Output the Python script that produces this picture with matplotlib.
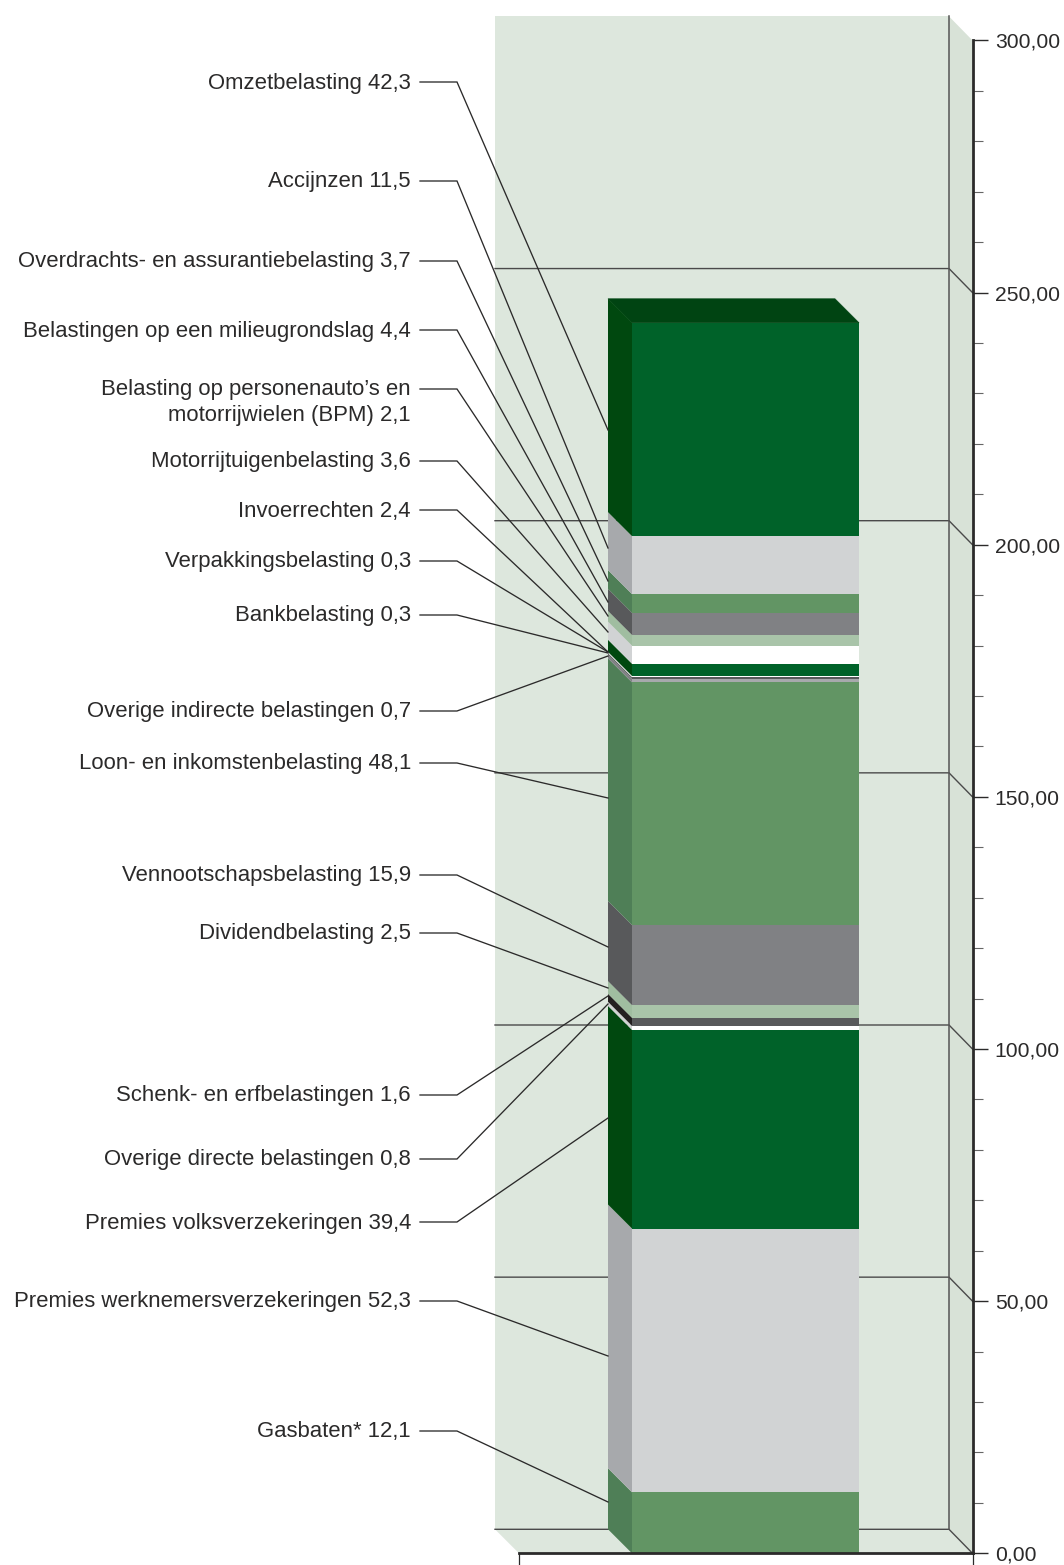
import numpy as np
import matplotlib
matplotlib.use("Agg")
import matplotlib.pyplot as plt
from matplotlib.patches import Polygon
from matplotlib.ticker import FuncFormatter, MultipleLocator
from matplotlib.transforms import Affine2D

categories = ["Gasbaten*", "Premies werknemersverzekeringen", "Premies volksverzekeringen",
              "Overige directe belastingen", "Schenk- en erfbelastingen", "Dividendbelasting",
              "Vennootschapsbelasting", "Loon- en inkomstenbelasting", "Overige indirecte belastingen",
              "Bankbelasting", "Verpakkingsbelasting", "Invoerrechten", "Motorrijtuigenbelasting",
              "Belasting op personenauto\u2019s en\nmotorrijwielen (BPM)", "Belastingen op een milieugrondslag",
              "Overdrachts- en assurantiebelasting", "Accijnzen", "Omzetbelasting"]
values = [12.1, 52.3, 39.4, 0.8, 1.6, 2.5, 15.9, 48.1, 0.7, 0.3, 0.3, 2.4, 3.6, 2.1, 4.4, 3.7, 11.5, 42.3]

GREEN, LGRAY, DGREEN, WHITE = "#629564", "#d1d3d4", "#006229", "#ffffff"
DGRAY, PALE, GRAY = "#58595b", "#a9c4a9", "#808184"
front_colors = [GREEN, LGRAY, DGREEN, WHITE, DGRAY, PALE, GRAY, GREEN, "#a7a9ac",
                DGRAY, WHITE, DGREEN, WHITE, PALE, GRAY, GREEN, LGRAY, DGREEN]
side_colors = ["#4f7f57", "#a7a9ac", "#00480f", "#d1d3d4", "#231f20", "#a0bda0", "#58595b", "#4f7f57", "#808184",
               "#58595b", "#d1d3d4", "#00480f", "#d1d3d4", "#a0bda0", "#58595b", "#4f7f57", "#a7a9ac", "#00480f"]

# layout (pixels in the reference)
W, H = 1064, 1565
Y0, SCALE, DEPTH = 1553.3, 5.043, 24.0
label_y = [1431, 1301, 1222, 1159, 1095, 933, 875, 763, 711, 615, 561, 510, 461, 389, 330, 261, 181, 82]
anchor_y = [1502, 1356, 1118, 1004, 996, 988, 947, 798, 656, 653, 652, 652, 632, 616, 602, 581, 548, 430]
BAR_L, BAR_R, WALL_L, WALL_R, AXIS_X, FLOOR_L = 632, 859, 495, 949, 972.5, 519
LINE_GAP = 25

fig = plt.figure(figsize=(W / 100, H / 100), dpi=100, facecolor="white")
ax = fig.add_axes([0, 0, 1, 1], facecolor="none")
ax.set_xlim(0, W)
ax.set_ylim((Y0 - H) / SCALE, Y0 / SCALE)
d = DEPTH / SCALE
px = Affine2D().scale(1, -1).translate(0, H)  # reference pixels to display

# walls and floor
ymax = 300
ax.add_patch(Polygon([(WALL_L, d), (WALL_R, d), (WALL_R, ymax + d), (WALL_L, ymax + d)], fc="#dde7dd", ec="none", zorder=1))
ax.add_patch(Polygon([(WALL_L, d), (WALL_R, d), (AXIS_X, 0), (FLOOR_L, 0)], fc="#dde7dd", ec="none", zorder=1))
ax.add_patch(Polygon([(WALL_R, d), (AXIS_X, 0), (AXIS_X, ymax), (WALL_R, ymax + d)], fc="#d8e2d7", ec="none", zorder=1))

# gridlines
lc = "#4a4a4a"
for v in np.arange(0, 251, 50):
    ax.plot([WALL_L, WALL_R, AXIS_X], [v + d, v + d, v], color=lc, lw=1.0, zorder=2, solid_joinstyle="miter")
ax.plot([WALL_R, WALL_R], [d, ymax + d], color="#555555", lw=1.1, zorder=2)

# stacked column
vals = np.array(values)
bottoms = np.concatenate([[0], np.cumsum(vals)[:-1]])
tops = bottoms + vals
dx = DEPTH
ax.add_patch(Polygon([(BAR_L, tops[-1]), (BAR_R, tops[-1]), (BAR_R - dx, tops[-1] + d), (BAR_L - dx, tops[-1] + d)],
                     fc="#004412", ec="#004412", lw=0.5, zorder=3))
ax.bar(BAR_L, vals, bottom=bottoms, width=BAR_R - BAR_L, align="edge", color=front_colors, lw=0, zorder=3)
for b, t, c in zip(bottoms, tops, side_colors):
    ax.add_patch(Polygon([(BAR_L, b), (BAR_L, t), (BAR_L - dx, t + d), (BAR_L - dx, b + d)], fc=c, ec="none", zorder=3))

# labels and leaders
font = "Liberation Sans"
for name, v, ly, ay in zip(categories, values, label_y, anchor_y):
    s = f"{name} {v:.1f}".replace(".", ",")
    extra = LINE_GAP * s.count("\n")
    ax.text(411, ly + 6.5 + extra, s, transform=px, ha="right", va="baseline", ma="right", family=font, fontsize=15.95,
            color="#2b2a2a", linespacing=1.25, zorder=5)
    ax.plot([420, 457, BAR_L - dx], [ly, ly, ay], transform=px, color="#2b2a2a", lw=0.95, zorder=4,
            solid_joinstyle="miter")

# axes
for sp in ("top", "left"):
    ax.spines[sp].set_visible(False)
ax.spines["right"].set_position(("data", AXIS_X))
ax.spines["right"].set_bounds(0, 300)
ax.spines["right"].set_linewidth(2.0)
ax.spines["right"].set_color("#2b2a2a")
ax.spines["bottom"].set_position(("data", 0))
ax.spines["bottom"].set_bounds(FLOOR_L, AXIS_X)
ax.spines["bottom"].set_linewidth(2.0)
ax.spines["bottom"].set_color("#2b2a2a")
for sp in ax.spines.values():
    sp.set_zorder(6)
ax.yaxis.tick_right()
ax.yaxis.set_major_locator(MultipleLocator(50))
ax.yaxis.set_minor_locator(MultipleLocator(10))
ax.yaxis.set_major_formatter(FuncFormatter(lambda v, _: f"{v:.2f}".replace(".", ",")))
ax.tick_params(axis="y", which="major", length=11, width=1.0, color="#2b2a2a", pad=5, labelsize=15.2,
               labelcolor="#2b2a2a", labelfontfamily=font)
ax.tick_params(axis="y", which="minor", length=7, width=0.8, color="#666666")
ax.set_yticks(np.arange(0, 301, 50))
ax.set_xticks([FLOOR_L, AXIS_X])
ax.set_xticklabels([])
ax.tick_params(axis="x", length=8.5, width=0.9, color="#2b2a2a")
ax.set_ylim((Y0 - H) / SCALE, Y0 / SCALE)
ax.set_xlim(0, W)

fig.savefig("out.png", dpi=100)
